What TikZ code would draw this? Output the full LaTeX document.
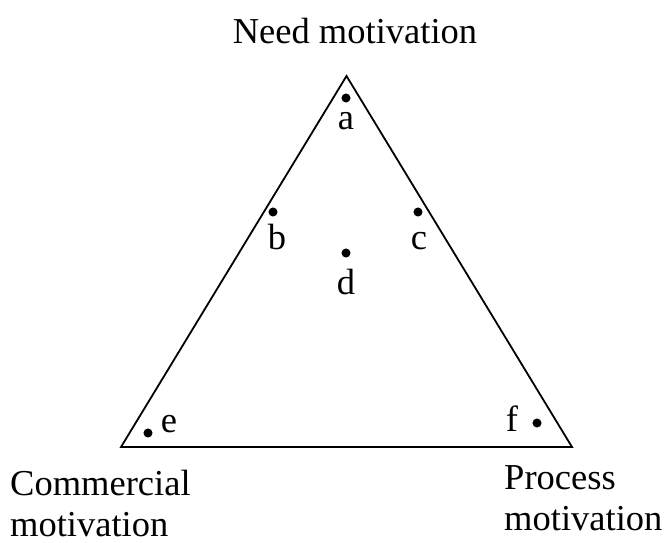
\documentclass[tikz,border=0pt]{standalone}
\usepackage{fontspec}
\setmainfont{Liberation Serif}
\usetikzlibrary{positioning}

\begin{document}
\begin{tikzpicture}[x=1pt, y=1pt,
        dot/.style={circle, fill=black, inner sep=3.2pt},
        every label/.style={font=\fontsize{36.5}{41}\selectfont, inner sep=0pt, text height=24pt, text depth=0pt},
        txt/.style={font=\fontsize{36.5}{41}\selectfont, inner sep=0pt, align=left}]
        \useasboundingbox (0,0) rectangle (666,-542);

        % Vertici del triangolo
        \coordinate (top) at (346.5,-76);
        \coordinate (bl) at (121,-447);
        \coordinate (br) at (572,-447);
        \draw[line width=1.8pt, line join=miter] (top) -- (bl) -- (br) -- cycle;

        % Etichette dei vertici
        \node[txt, anchor=base] (need) at (355,-43) {Need motivation};
        \node[txt, anchor=base west] (comm) at (10,-536) {Commercial\\motivation};
        \node[txt, anchor=base west] (proc) at (504,-530) {Process\\motivation};

        % Punti
        \node[dot, label={[label distance=3pt]below:a}] (a) at (346,-98) {};
        \node[dot, label={[label distance=9pt, xshift=4pt]below:b}] (b) at (273,-212) {};
        \node[dot, label={[label distance=9pt, xshift=1pt]below:c}] (c) at (418,-212) {};
        \node[dot, label={[label distance=13pt]below:d}] (d) at (346,-253) {};
        \node[dot, label={[label distance=8pt, anchor=base west, yshift=1pt]right:e}] (e) at (148,-433) {};
        \node[dot, label={[label distance=14pt, anchor=base east, yshift=-8pt]left:f}] (f) at (537,-423) {};

    \end{tikzpicture}
\end{document}
